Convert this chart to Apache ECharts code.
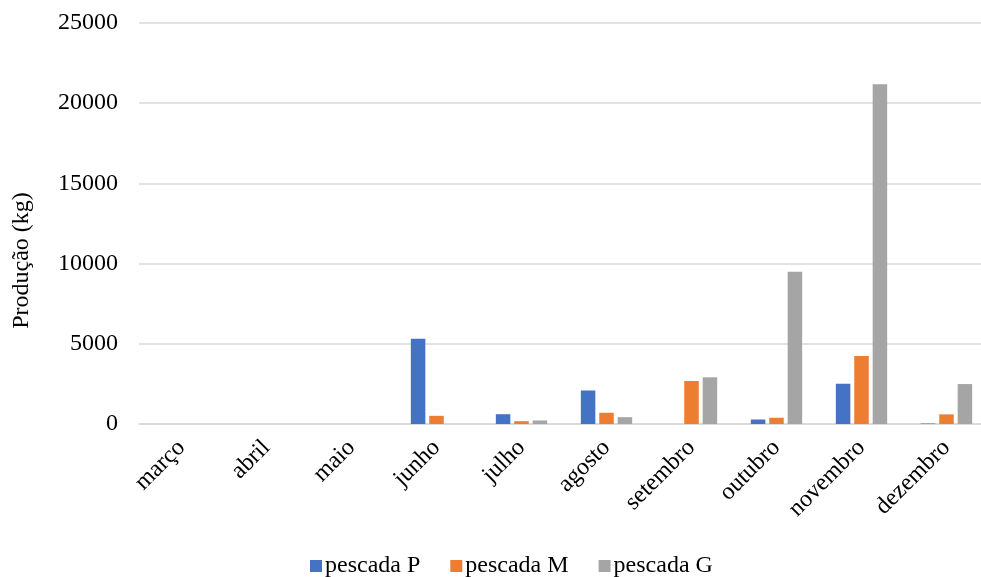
<!DOCTYPE html>
<html>
<head>
<meta charset="utf-8">
<script src="https://cdn.jsdelivr.net/npm/echarts@6/dist/echarts.min.js"></script>
<style>
  html, body { margin: 0; padding: 0; background: #ffffff; }
  #chart { width: 981px; height: 577px; }
</style>
</head>
<body>
<div id="chart"></div>
<script>
// Monthly production of hake (pescada) by size class, in kg
const months = ['março', 'abril', 'maio', 'junho', 'julho', 'agosto', 'setembro', 'outubro', 'novembro', 'dezembro'];
const pescadaP = [0, 0, 0, 5320, 610, 2090, 0, 280, 2510, 30];
const pescadaM = [0, 0, 0, 510, 175, 700, 2680, 390, 4240, 600];
const pescadaG = [0, 0, 0, 0, 220, 425, 2910, 9490, 21180, 2490];
const yTicks = { min: 0, max: 25000, interval: 5000 };

const font = '"Liberation Serif", "Times New Roman", serif';
const colors = ['#4472c4', '#ed7d31', '#a5a5a5'];

const chart = echarts.init(document.getElementById('chart'), null, { renderer: 'canvas' });

function barSeries(name, data, color) {
  return {
    name: name,
    type: 'bar',
    data: data,
    barWidth: 14.5,
    barGap: '27%',
    itemStyle: { color: color },
    emphasis: { disabled: true }
  };
}

chart.setOption({
  animation: false,
  backgroundColor: '#ffffff',
  textStyle: { fontFamily: font, color: '#000000' },
  grid: { left: 139, top: 23, width: 850, height: 401, containLabel: false, outerBoundsMode: 'none' },
  legend: {
    top: 549,
    left: 305,
    itemWidth: 12,
    itemHeight: 12,
    itemGap: 30,
    icon: 'rect',
    textStyle: { fontFamily: font, fontSize: 24, color: '#000000', padding: [0, 0, 0, -2] },
    data: ['pescada P', 'pescada M', 'pescada G']
  },
  xAxis: {
    type: 'category',
    data: months,
    axisLine: { lineStyle: { color: '#d9d9d9', width: 1.5 } },
    axisTick: { show: false },
    axisLabel: {
      rotate: 45,
      interval: 0,
      margin: 20,
      fontFamily: font,
      fontSize: 24,
      color: '#000000'
    }
  },
  yAxis: {
    type: 'value',
    min: yTicks.min,
    max: yTicks.max,
    interval: yTicks.interval,
    name: 'Produção (kg)',
    nameLocation: 'middle',
    nameGap: 105,
    nameRotate: 90,
    nameTextStyle: { fontFamily: font, fontSize: 24, color: '#000000', padding: [0, 74, 0, 0] },
    axisLine: { show: false },
    axisTick: { show: false },
    splitLine: { lineStyle: { color: '#d9d9d9', width: 1.5 } },
    axisLabel: {
      margin: 21,
      fontFamily: font,
      fontSize: 24,
      color: '#000000',
      formatter: (v) => String(v)
    }
  },
  series: [
    barSeries('pescada P', pescadaP, colors[0]),
    barSeries('pescada M', pescadaM, colors[1]),
    barSeries('pescada G', pescadaG, colors[2])
  ]
});
</script>
</body>
</html>
